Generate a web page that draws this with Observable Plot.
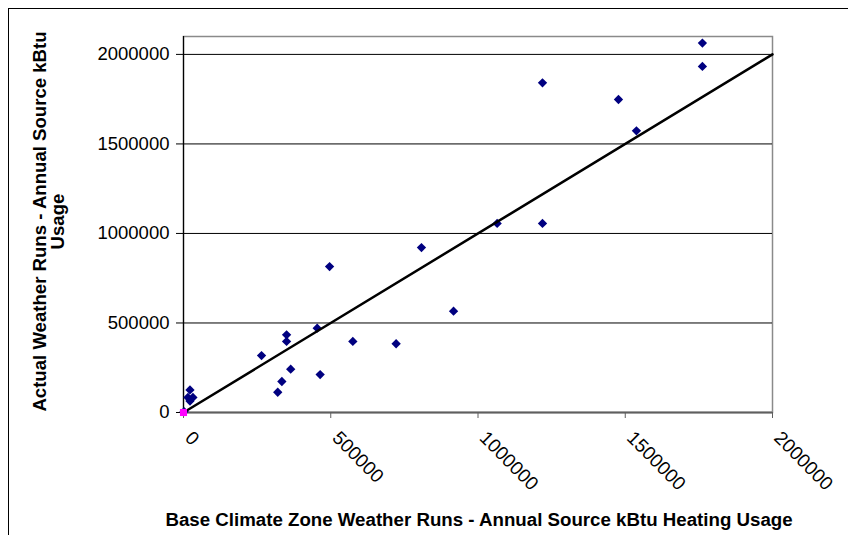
<!DOCTYPE html>
<html><head><meta charset="utf-8">
<script src="https://cdn.jsdelivr.net/npm/d3@7"></script>
<script src="https://cdn.jsdelivr.net/npm/@observablehq/plot@0.6"></script>
<style>
html,body{margin:0;padding:0;background:#fff;overflow:hidden;width:848px;height:535px;}
#chart{position:absolute;left:0;top:0;}
#border{position:absolute;left:8px;top:8px;width:900px;height:600px;border:1px solid #000;box-sizing:border-box;pointer-events:none;}
</style></head><body>
<div id="chart"></div><div id="border"></div>
<script>
const baseX = [1762000, 1762000, 1219000, 1477000, 1538000, 1065000, 1219000, 808000, 496000, 917000, 454000, 350000, 350000, 575000, 722000, 265000, 364000, 464000, 334000, 320000, 22000, 32000, 15000, 22000, 2000];
const actualY = [2063000, 1933000, 1841000, 1748000, 1573000, 1056000, 1056000, 921000, 815000, 566000, 471000, 434000, 397000, 397000, 384000, 318000, 242000, 212000, 173000, 113000, 126000, 84000, 84000, 64000, 5000];
const refLineX = [0, 2000000];
const refLineY = [0, 2000000];
const originX = [0];
const originY = [0];
const xTicks = [0, 500000, 1000000, 1500000, 2000000];
const yTicks = [0, 500000, 1000000, 1500000, 2000000];
const xTitle = "Base Climate Zone Weather Runs - Annual Source kBtu Heating Usage";
const yTitle = "Actual Weather Runs - Annual Source kBtu\nUsage";

const chart = Plot.plot({
  width: 848,
  height: 535,
  marginLeft: 183,
  marginRight: 76,
  marginTop: 36,
  marginBottom: 123,
  x: {domain: [0, 2000000]},
  y: {domain: [0, 2100000]},
  style: {fontFamily: "'Liberation Sans', Arial, sans-serif", fontSize: "18.5px", color: "black", background: "white", overflow: "visible"},
  marks: [
    Plot.frame({stroke: "#8a8a8a", strokeWidth: 1.5}),
    Plot.gridY(yTicks.filter(d => d > 0), {stroke: "black", strokeOpacity: 1, strokeWidth: 1}),
    Plot.ruleX([0], {stroke: "black", strokeWidth: 1.2}),
    Plot.ruleY([0], {stroke: "#5f5f5f", strokeWidth: 2}),
    Plot.axisY({ticks: yTicks, tickSize: 7, tickPadding: 7, tickFormat: d => String(d), label: null, stroke: "black"}),
    Plot.axisX({ticks: xTicks, tickSize: 6, tickFormat: () => "", label: null, stroke: "#5f5f5f"}),
    Plot.text(xTicks, {x: d => d, frameAnchor: "bottom", rotate: 45, textAnchor: "start", lineAnchor: "top", dx: 10, dy: 17, fontSize: 19, text: d => String(d), fill: "black"}),
    Plot.dot(baseX, {x: d => d, y: actualY, symbol: "diamond2", r: 4.2, fill: "#000080", stroke: "none"}),
    Plot.line(refLineX, {x: d => d, y: refLineY, stroke: "black", strokeWidth: 2.5}),
    Plot.dot(originX, {x: d => d, y: originY, symbol: "square", r: 4, fill: "#ff00ff", stroke: "none"}),
    Plot.text([xTitle], {frameAnchor: "bottom", dx: 1, dy: 113, lineAnchor: "bottom", textAnchor: "middle", fontWeight: "bold", fontSize: 18.7, fill: "black"}),
    Plot.text([yTitle], {frameAnchor: "left", dx: -120, dy: -3, rotate: -90, lineAnchor: "bottom", lineHeight: 0.95, textAnchor: "middle", fontWeight: "bold", fontSize: 18.6, fill: "black"})
  ]
});
document.getElementById("chart").appendChild(chart);
</script>
</body></html>
